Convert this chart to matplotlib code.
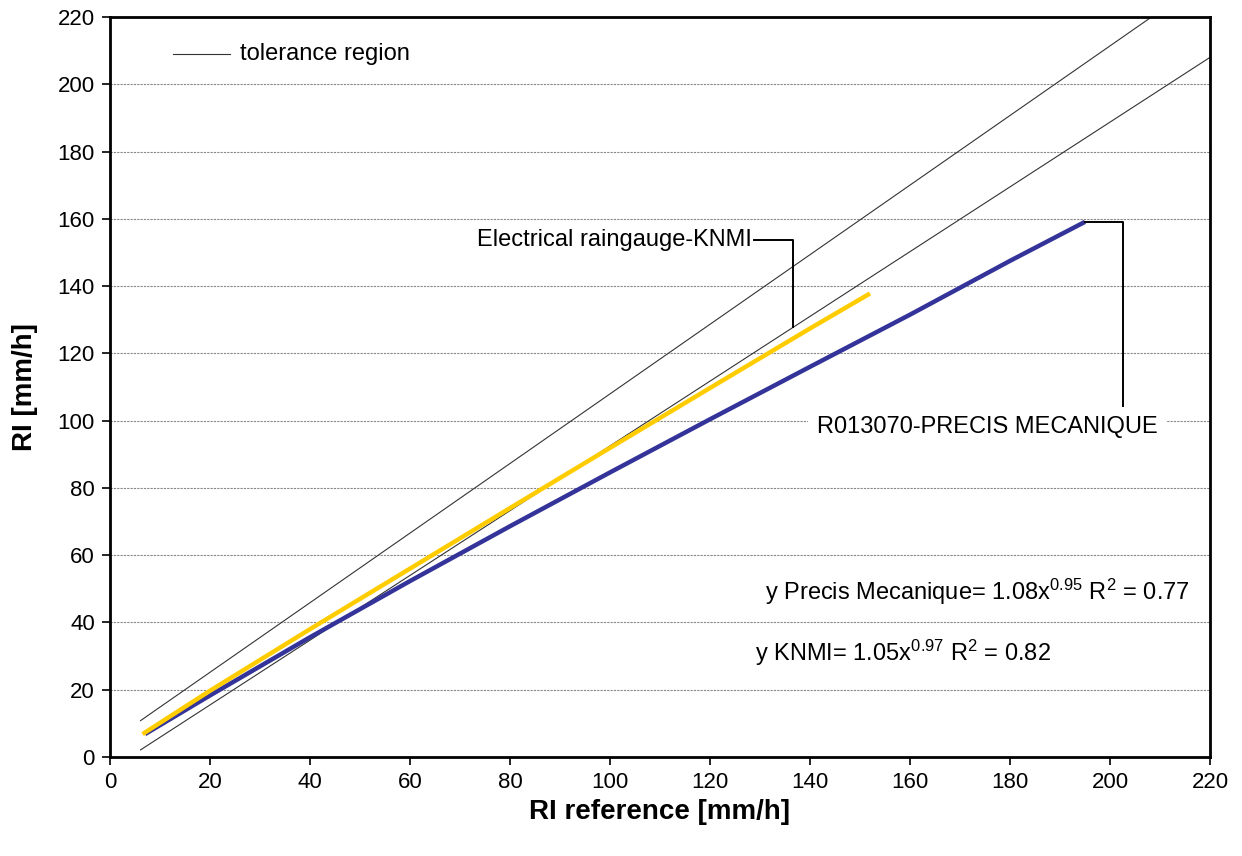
import matplotlib
matplotlib.use("Agg")
from matplotlib import pyplot as plt

plt.rcParams['font.family'] = ['Liberation Sans', 'DejaVu Sans']
plt.rcParams['mathtext.fontset'] = 'custom'
plt.rcParams['mathtext.rm'] = 'Liberation Sans'
plt.rcParams['mathtext.it'] = 'Liberation Sans:italic'

# values
knmi_x = [6.5, 20, 40, 60, 80, 100, 120, 140, 152]
knmi_y = [6.8, 19.7, 38.0, 56.0, 74.0, 91.9, 109.7, 127.4, 137.8]

precis_x = [7, 20, 40, 60, 80, 100, 120, 140, 160, 180, 195]
precis_y = [6.8, 18.3, 35.6, 52.3, 68.6, 84.6, 100.4, 116.0, 131.5, 147.5, 159.1]

tol_upper_x = [6.1, 208.3]
tol_upper_y = [10.8, 220]
tol_lower_x = [6.1, 220]
tol_lower_y = [2.1, 208]

ticks = list(range(0, 221, 20))

fig = plt.figure(figsize=(12.42, 8.56), dpi=100)
ax = fig.add_axes([0.0886, 0.1157, 0.9742 - 0.0886, 0.9801 - 0.1157])

ax.plot(tol_upper_x, tol_upper_y, color='#333333', lw=0.8)
ax.plot(tol_lower_x, tol_lower_y, color='#333333', lw=0.8)
ax.plot(precis_x, precis_y, color='#333399', lw=3.2, solid_capstyle='butt')
ax.plot(knmi_x, knmi_y, color='#FFCC00', lw=3.2, solid_capstyle='butt')

ax.set_xlim(0, 220)
ax.set_ylim(0, 220)
ax.set_xticks(ticks)
ax.set_yticks(ticks)
ax.tick_params(labelsize=16, direction='out', length=6, width=1.2, pad=5)
ax.grid(axis='y', color='#888888', lw=0.8, ls=(0, (2, 1)))
ax.set_axisbelow(True)
for s in ax.spines.values():
    s.set_linewidth(2)

ax.set_xlabel("RI reference [mm/h]", fontsize=20, fontweight='bold', labelpad=4)
ax.set_ylabel("RI [mm/h]", fontsize=20, fontweight='bold', labelpad=14)

# tolerance legend
ax.plot([12.6, 24], [209, 209], color='#333333', lw=0.8)
ax.text(26, 209, "tolerance region", fontsize=17, va='center')

# leader for KNMI
ax.plot([128.8, 136.6, 136.6], [153.7, 153.7, 127.8], color='black', lw=1.4)
ax.text(128.4, 153.7, "Electrical raingauge-KNMI", fontsize=17, va='center', ha='right')

# leader for Precis Mecanique
ax.plot([195, 202.7, 202.7], [159.1, 159.1, 103.3], color='black', lw=1.4)
ax.text(175.4, 98.2, "R013070-PRECIS MECANIQUE", fontsize=17, va='center', ha='center',
        bbox=dict(facecolor='white', edgecolor='none', pad=6))

ax.text(131, 49.2, r"y Precis Mecanique= 1.08x$^{0.95}$ R$^{2}$ = 0.77", fontsize=17, va='center')
ax.text(129, 31, r"y KNMI= 1.05x$^{0.97}$ R$^{2}$ = 0.82", fontsize=17, va='center')

fig.savefig("out.png", dpi=100)
